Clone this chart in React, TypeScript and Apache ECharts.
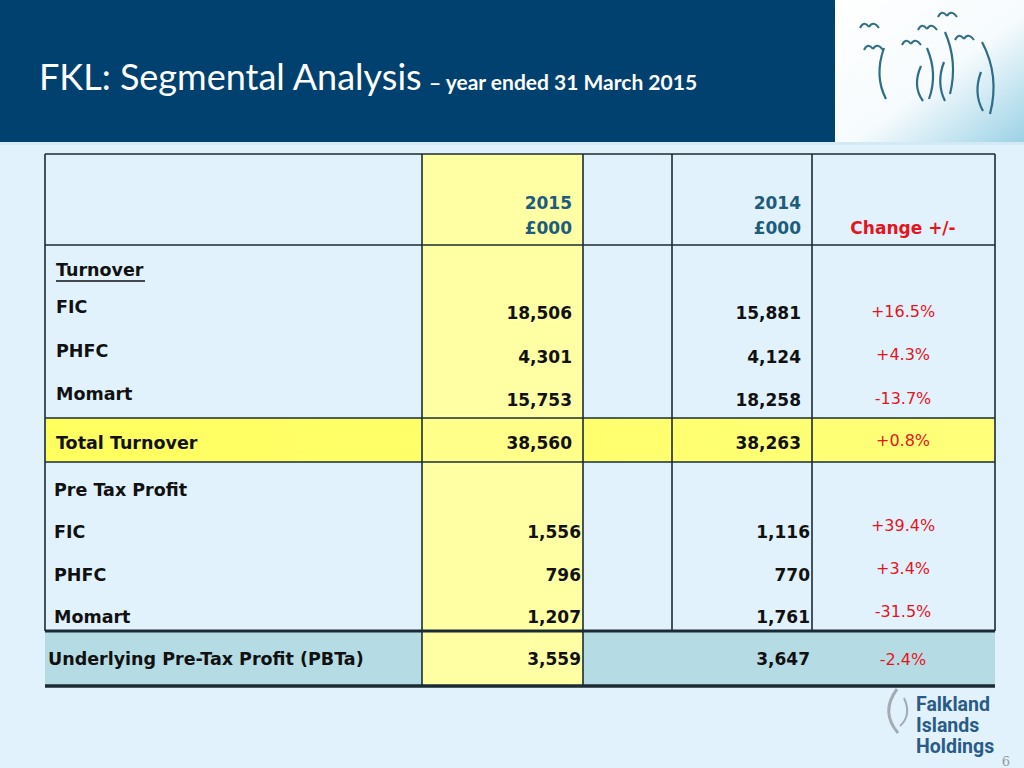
import React, { useEffect, useRef } from "react";
import * as echarts from "echarts";

// ---- Data ----
const segments = ["FIC", "PHFC", "Momart"];
const turnover2015 = [18506, 4301, 15753];
const turnover2014 = [15881, 4124, 18258];
const turnoverChange = ["+16.5%", "+4.3%", "-13.7%"];
const totalTurnover = [38560, 38263];
const totalTurnoverChange = "+0.8%";
const profit2015 = [1556, 796, 1207];
const profit2014 = [1116, 770, 1761];
const profitChange = ["+39.4%", "+3.4%", "-31.5%"];
const pbta = [3559, 3647];
const pbtaChange = "-2.4%";
const yearHeaders = ["2015", "2014"];
const unitHeader = "£000";
const changeHeader = "Change +/-";

const fmt = (v: number) => v.toLocaleString("en-GB");

const FONT = "DejaVu Sans";
const RED = "#E5141C";
const HEAD = "#1C5C7C";
const LINE = "#1B2B35";

function buildGraphic(): any[] {
  const els: any[] = [];
  const L = 45, R = 995, TOP = 154;
  const colX = [422, 583, 672, 812];
  const hdrBottom = 245, turnBottom = 418, totalBottom = 462, pbtBottom = 631, tableBottom = 686;

  // page background
  els.push({ type: "rect", shape: { x: 0, y: 0, width: 1024, height: 768 }, style: { fill: "#E2F2FC" } });
  // header band
  els.push({ type: "rect", shape: { x: 0, y: 0, width: 835, height: 142 }, style: { fill: "#00416F" } });
  // logo area
  els.push({
    type: "rect", shape: { x: 835, y: 0, width: 189, height: 142 },
    style: {
      fill: new echarts.graphic.LinearGradient(0, 0, 1, 1, [
        { offset: 0, color: "#FFFFFF" },
        { offset: 0.55, color: "#F6FBFD" },
        { offset: 1, color: "#9CD2E6" },
      ]),
    },
  });
  els.push({ type: "rect", shape: { x: 0, y: 142, width: 1024, height: 3 }, style: { fill: "#D3E9F5" } });

  // birds logo
  const birdColor = "#2E6C88";
  const arcs = [
    [884, 48, 886, 99, 874, 76],
    [921, 66, 923, 101, 912, 86],
    [927, 48, 929, 99, 938, 74],
    [944, 62, 945, 101, 936, 83],
    [945, 32, 950, 94, 958, 62],
    [981, 72, 983, 111, 973, 93],
    [982, 42, 990, 114, 1000, 76],
  ];
  arcs.forEach(([x1, y1, x2, y2, cx, cy]) =>
    els.push({
      type: "bezierCurve",
      shape: { x1, y1, x2, y2, cpx1: cx, cpy1: cy },
      style: { stroke: birdColor, lineWidth: 2.2, fill: null },
    })
  );
  const birds = [[869, 25], [873, 47], [911, 42], [927, 27], [947, 14], [964, 37]];
  birds.forEach(([bx, by]) => {
    els.push({
      type: "bezierCurve",
      shape: { x1: bx - 9, y1: by + 3, x2: bx, y2: by + 2, cpx1: bx - 5, cpy1: by - 5 },
      style: { stroke: birdColor, lineWidth: 2, fill: null },
    });
    els.push({
      type: "bezierCurve",
      shape: { x1: bx, y1: by + 2, x2: bx + 10, y2: by + 3, cpx1: bx + 4, cpy1: by - 5 },
      style: { stroke: birdColor, lineWidth: 2, fill: null },
    });
  });

  // title
  els.push({
    type: "text", x: 39, y: 76,
    style: { text: "FKL: Segmental Analysis", fill: "#FFFFFF", font: "36px Lato", verticalAlign: "middle", align: "left" },
  });
  els.push({
    type: "text", x: 429, y: 81,
    style: { text: "– year ended 31 March 2015", fill: "#FFFFFF", font: "bold 21px Lato", verticalAlign: "middle", align: "left" },
  });

  // ---- table fills ----
  els.push({ type: "rect", shape: { x: L, y: turnBottom, width: R - L, height: totalBottom - turnBottom },
    style: { fill: new echarts.graphic.LinearGradient(0, 0, 1, 0, [
      { offset: 0, color: "#FFFF5E" }, { offset: 1, color: "#FFFF7A" }]) } });
  els.push({ type: "rect", shape: { x: L, y: pbtBottom, width: R - L, height: tableBottom - pbtBottom }, style: { fill: "#B5DCE4" } });
  els.push({ type: "rect", shape: { x: colX[0], y: TOP, width: colX[1] - colX[0], height: tableBottom - TOP }, style: { fill: "#FFFFA4" } });
  els.push({ type: "rect", shape: { x: colX[0], y: turnBottom, width: colX[1] - colX[0], height: totalBottom - turnBottom }, style: { fill: "#FFFF8A" } });

  // ---- lines ----
  const hline = (y: number, w = 1.6) =>
    els.push({ type: "line", shape: { x1: L, y1: y, x2: R, y2: y }, style: { stroke: LINE, lineWidth: w } });
  const vline = (x: number, y1: number, y2: number) =>
    els.push({ type: "line", shape: { x1: x, y1, x2: x, y2 }, style: { stroke: LINE, lineWidth: 1.6 } });
  [L, ...colX, R].forEach((x) => vline(x, TOP, pbtBottom));
  vline(colX[0], pbtBottom, tableBottom);
  vline(colX[1], pbtBottom, tableBottom);
  hline(TOP);
  hline(hdrBottom);
  hline(turnBottom);
  hline(totalBottom);
  hline(pbtBottom, 3.2);
  hline(tableBottom, 3.5);

  // ---- texts ----
  const txt = (text: string, x: number, y: number, opts: any = {}) =>
    els.push({
      type: "text", x, y,
      style: {
        text, fill: opts.fill || "#111111",
        font: `${opts.weight || "bold"} ${opts.size || 17}px '${FONT}'`,
        align: opts.align || "left", verticalAlign: "middle",
      },
    });
  const lbl = (text: string, x: number, y: number) => txt(text, x, y, { size: 17.5 });

  const c2015 = 572, c2014 = 801, p2015 = 581, p2014 = 810, chX = 903;
  // headers
  txt(yearHeaders[0], c2015, 203, { align: "right", fill: HEAD });
  txt(unitHeader, c2015, 228, { align: "right", fill: HEAD });
  txt(yearHeaders[1], c2014, 203, { align: "right", fill: HEAD });
  txt(unitHeader, c2014, 228, { align: "right", fill: HEAD });
  txt(changeHeader, chX, 228, { align: "center", fill: RED });

  // turnover
  lbl("Turnover", 56, 270);
  els.push({ type: "line", shape: { x1: 56, y1: 281, x2: 145, y2: 281 }, style: { stroke: "#111", lineWidth: 1.5 } });
  const tLabelY = [307, 351, 394], tValY = [313, 357, 400], tChY = [311, 354, 398];
  segments.forEach((s, i) => {
    lbl(s, 56, tLabelY[i]);
    txt(fmt(turnover2015[i]), c2015, tValY[i], { align: "right" });
    txt(fmt(turnover2014[i]), c2014, tValY[i], { align: "right" });
    txt(turnoverChange[i], chX, tChY[i], { align: "center", fill: RED, weight: "normal", size: 16 });
  });
  lbl("Total Turnover", 56, 443);
  txt(fmt(totalTurnover[0]), c2015, 443, { align: "right" });
  txt(fmt(totalTurnover[1]), c2014, 443, { align: "right" });
  txt(totalTurnoverChange, chX, 440, { align: "center", fill: RED, weight: "normal", size: 16 });

  // profit
  lbl("Pre Tax Profit", 54, 490);
  const pY = [532, 575, 617], pChY = [525, 568, 611];
  segments.forEach((s, i) => {
    lbl(s, 54, pY[i]);
    txt(fmt(profit2015[i]), p2015, pY[i], { align: "right" });
    txt(fmt(profit2014[i]), p2014, pY[i], { align: "right" });
    txt(profitChange[i], chX, pChY[i], { align: "center", fill: RED, weight: "normal", size: 16 });
  });
  lbl("Underlying Pre-Tax Profit (PBTa)", 48, 659);
  txt(fmt(pbta[0]), p2015, 659, { align: "right" });
  txt(fmt(pbta[1]), p2014, 659, { align: "right" });
  txt(pbtaChange, chX, 659, { align: "center", fill: RED, weight: "normal", size: 16 });

  // bottom-right company logo
  els.push({
    type: "bezierCurve",
    shape: { x1: 897, y1: 689, x2: 898, y2: 733, cpx1: 880, cpy1: 712 },
    style: { stroke: "#A3ABB3", lineWidth: 3, fill: null },
  });
  els.push({
    type: "bezierCurve",
    shape: { x1: 904, y1: 698, x2: 900, y2: 726, cpx1: 912, cpy1: 715 },
    style: { stroke: "#A3ABB3", lineWidth: 2, fill: null },
  });
  const logoLines = ["Falkland", "Islands", "Holdings"];
  logoLines.forEach((t, i) =>
    els.push({
      type: "text", x: 916, y: 704 + i * 21,
      style: { text: t, fill: "#2A5B87", font: "bold 19.5px Roboto", verticalAlign: "middle", align: "left" },
    })
  );
  els.push({
    type: "text", x: 1006, y: 761,
    style: { text: "6", fill: "#8E9AA3", font: "13px 'DejaVu Serif'", verticalAlign: "middle", align: "center" },
  });
  return els;
}

export default function App() {
  const ref = useRef<HTMLDivElement>(null);
  useEffect(() => {
    document.body.style.margin = "0";
    const chart = echarts.init(ref.current!, null, { renderer: "svg" });
    chart.setOption({ animation: false, graphic: { elements: buildGraphic() } });
    return () => chart.dispose();
  }, []);
  return <div ref={ref} style={{ width: 1024, height: 768 }} />;
}
